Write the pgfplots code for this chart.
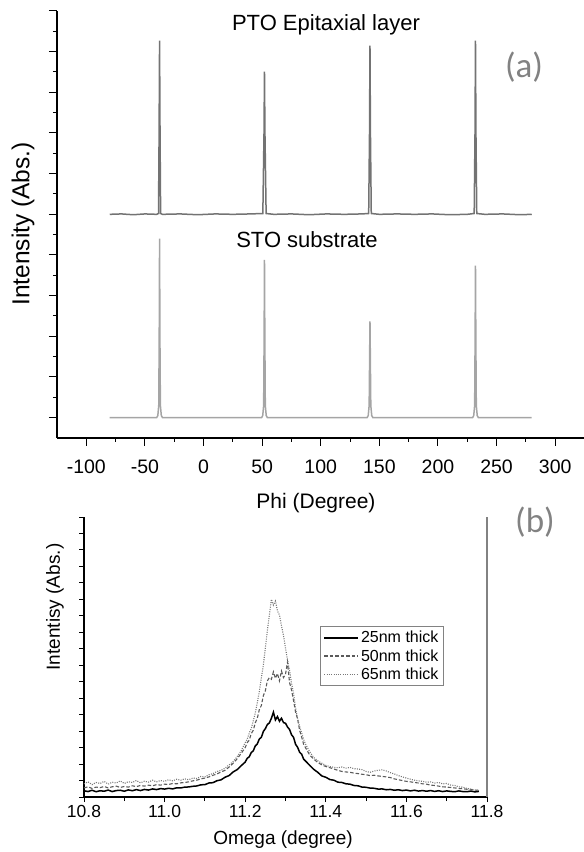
\documentclass[border=0pt]{standalone}
\usepackage{pgfplots}
\pgfplotsset{compat=1.18}
\usepackage{fontspec}
\setmainfont{Liberation Sans}
\newfontfamily\carlito{Carlito}
\definecolor{ptogray}{RGB}{115,115,115}
\definecolor{stogray}{RGB}{165,165,165}
\definecolor{dashgray}{RGB}{90,90,90}
\definecolor{dotgray}{RGB}{120,120,120}
\definecolor{labgray}{RGB}{130,130,130}
\begin{document}
\begin{tikzpicture}
\useasboundingbox (0pt,0pt) rectangle (584pt,852pt);
% ---------------- panel (a)
\begin{axis}[
  at={(57pt,414pt)}, anchor=south west,
  scale only axis, width=527.5pt, height=427pt,
  xmin=-125, xmax=325, ymin=-0.5, ymax=10,
  axis lines=left, axis line style={-, line width=1.1pt},
  xtick={-100,-50,...,300}, minor x tick num=1,
  ytick={0,...,10}, minor y tick num=1, yticklabels={},
  tick align=outside, major tick length=8pt, minor tick length=4pt,
  every tick/.style={black, line width=1pt},
  /pgf/number format/assume math mode=true,
  xticklabel style={font=\fontsize{19.5}{22}\selectfont, yshift=-10pt},
  clip=false,
]
\addplot[ptogray, line width=1.5pt] coordinates {
(-80,5.0) (-70,5.01) (-60,4.99) (-50,5.01) (-40,5.0) (-38.4,5.02) (-37.9,7.0) (-37.5,9.27) (-37.1,7.0) (-36.6,5.02)
(-35,5.0) (-20,5.01) (-5,4.99) (10,5.01) (25,5.0) (40,5.01) (50.6,5.02) (51.6,7.0) (52.0,8.51) (52.4,7.0) (53.4,5.02)
(60,5.0) (75,5.01) (90,4.99) (105,5.01) (120,5.0) (135,5.01) (140.9,5.02) (141.6,7.0) (142.0,9.15) (142.4,7.0) (143.1,5.02)
(150,5.0) (165,5.01) (180,5.0) (195,5.01) (210,4.99) (225,5.0) (230.9,5.02) (231.6,7.0) (232.0,9.27) (232.4,7.0) (233.1,5.02)
(240,5.0) (255,5.01) (270,4.99) (280,5.0)};
\addplot[stogray, line width=1.5pt] coordinates {
(-80,0) (-40,0) (-39,0.05) (-38.2,0.3) (-37.8,2.0) (-37.5,4.40) (-37.2,2.0) (-36.8,0.3) (-36,0.05) (-35,0)
(49.5,0) (50.5,0.05) (51.3,0.3) (51.7,2.0) (52.0,3.88) (52.3,2.0) (52.7,0.3) (53.5,0.05) (54.5,0)
(139.5,0) (140.5,0.05) (141.3,0.3) (141.7,1.5) (142.0,2.37) (142.3,1.5) (142.7,0.3) (143.5,0.05) (144.5,0)
(229.5,0) (230.5,0.05) (231.3,0.3) (231.7,2.0) (232.0,3.74) (232.3,2.0) (232.7,0.3) (233.5,0.05) (234.5,0)
(280,0)};
\end{axis}
% ---------------- panel (b)
\begin{axis}[
  at={(84pt,55pt)}, anchor=south west,
  scale only axis, width=403pt, height=280pt,
  xmin=10.8, xmax=11.8, ymin=0, ymax=17,
  axis lines=left, axis line style={-, line width=1.1pt},
  xtick={10.8,11.0,...,11.8}, minor x tick num=1,
  ytick={0,...,17}, yticklabels={},
  tick align=outside, major tick length=5pt, minor tick length=4pt,
  every tick/.style={black, line width=0.9pt},
  /pgf/number format/assume math mode=true,
  xticklabel style={font=\fontsize{17.5}{20}\selectfont, /pgf/number format/fixed, /pgf/number format/fixed zerofill, /pgf/number format/precision=1},
  legend style={at={(0.586,0.611)}, anchor=north west, draw=labgray, line width=0.8pt,
     font=\fontsize{16}{19}\selectfont, inner sep=3pt, row sep=1pt},
  legend cell align=left,
  legend image code/.code={\draw[#1] (0pt,0pt) -- (34pt,0pt);},
  clip=false,
]
\addplot[black, line width=1.5pt] coordinates {
(10.80,0.38) (10.81,0.33) (10.82,0.41) (10.83,0.32) (10.84,0.38) (10.85,0.35) (10.86,0.42) (10.87,0.33) (10.88,0.39) (10.89,0.41)
(10.90,0.35) (10.91,0.43) (10.92,0.38) (10.93,0.45) (10.94,0.39) (10.95,0.46) (10.96,0.42) (10.97,0.49) (10.98,0.45) (10.99,0.51)
(11.00,0.48) (11.01,0.53) (11.02,0.49) (11.03,0.56) (11.04,0.55) (11.05,0.60) (11.06,0.61) (11.07,0.65) (11.08,0.67) (11.09,0.74)
(11.10,0.75) (11.11,0.85) (11.12,0.87) (11.13,0.99) (11.14,1.04) (11.15,1.20) (11.16,1.30) (11.17,1.52) (11.18,1.66) (11.19,1.90)
(11.200,2.12) (11.205,2.35) (11.210,2.44) (11.215,2.70) (11.220,2.80) (11.225,3.10) (11.230,3.22) (11.235,3.52) (11.240,3.62) (11.245,3.98)
(11.250,4.15) (11.255,4.40) (11.260,4.50) (11.265,4.78) (11.270,5.15) (11.275,4.68) (11.280,4.88) (11.285,4.60) (11.290,4.78) (11.295,4.52)
(11.300,4.48) (11.305,4.25) (11.310,4.10) (11.315,3.78) (11.320,3.62) (11.325,3.20) (11.330,3.02) (11.335,2.72) (11.340,2.60) (11.345,2.30)
(11.350,2.18) (11.36,1.92) (11.37,1.68) (11.38,1.50) (11.39,1.28) (11.40,1.20) (11.41,1.06) (11.42,1.02) (11.43,0.90) (11.44,0.88)
(11.45,0.80) (11.46,0.78) (11.47,0.70) (11.48,0.68) (11.49,0.60) (11.50,0.59) (11.51,0.54) (11.52,0.53) (11.53,0.48) (11.54,0.49)
(11.55,0.44) (11.56,0.46) (11.57,0.41) (11.58,0.44) (11.59,0.39) (11.60,0.42) (11.61,0.37) (11.62,0.41) (11.63,0.36) (11.64,0.39)
(11.65,0.35) (11.66,0.39) (11.67,0.34) (11.68,0.38) (11.69,0.33) (11.70,0.37) (11.71,0.34) (11.72,0.32) (11.73,0.37) (11.74,0.33)
(11.75,0.32) (11.76,0.36) (11.77,0.31) (11.78,0.34)};
\addlegendentry{25nm thick}
\addplot[dashgray, line width=1.1pt, dash pattern=on 3.5pt off 2pt] coordinates {
(10.80,0.55) (10.81,0.62) (10.82,0.52) (10.83,0.60) (10.84,0.57) (10.85,0.64) (10.86,0.55) (10.87,0.62) (10.88,0.66) (10.89,0.58)
(10.90,0.64) (10.91,0.60) (10.92,0.68) (10.93,0.63) (10.94,0.70) (10.95,0.66) (10.96,0.72) (10.97,0.68) (10.98,0.75) (10.99,0.72)
(11.00,0.78) (11.01,0.76) (11.02,0.82) (11.03,0.80) (11.04,0.86) (11.05,0.88) (11.06,0.92) (11.07,0.98) (11.08,1.02) (11.09,1.10)
(11.10,1.15) (11.11,1.22) (11.12,1.32) (11.13,1.40) (11.14,1.52) (11.15,1.62) (11.16,1.82) (11.17,2.05) (11.18,2.32) (11.19,2.65)
(11.200,3.00) (11.205,3.30) (11.210,3.45) (11.215,3.85) (11.220,4.05) (11.225,4.50) (11.230,4.78) (11.235,5.30) (11.240,5.55) (11.245,6.15)
(11.250,6.45) (11.255,7.05) (11.260,7.25) (11.265,7.15) (11.270,7.60) (11.275,7.20) (11.280,7.50) (11.285,7.05) (11.290,7.65) (11.295,7.25)
(11.300,7.45) (11.305,8.20) (11.310,6.95) (11.315,6.50) (11.320,5.85) (11.325,5.15) (11.330,4.75) (11.335,4.05) (11.340,3.65) (11.345,3.20)
(11.350,2.98) (11.36,2.55) (11.37,2.30) (11.38,2.10) (11.39,1.95) (11.40,1.85) (11.41,1.78) (11.42,1.70) (11.43,1.62)
(11.44,1.55) (11.45,1.52) (11.46,1.50) (11.47,1.45) (11.48,1.42) (11.49,1.38) (11.50,1.35) (11.51,1.30) (11.52,1.32) (11.53,1.28)
(11.54,1.25) (11.55,1.22) (11.56,1.18) (11.57,1.10) (11.58,1.05) (11.59,1.00) (11.60,0.95) (11.61,0.92) (11.62,0.88) (11.63,0.85)
(11.64,0.80) (11.65,0.78) (11.66,0.72) (11.67,0.70) (11.68,0.66) (11.69,0.62) (11.70,0.60) (11.71,0.58) (11.72,0.55) (11.73,0.52)
(11.74,0.50) (11.75,0.47) (11.76,0.45) (11.77,0.42) (11.78,0.40)};
\addlegendentry{50nm thick}
\addplot[dotgray, line width=1.1pt, dash pattern=on 1pt off 1.3pt] coordinates {
(10.80,0.80) (10.81,0.92) (10.82,0.75) (10.83,0.88) (10.84,0.82) (10.85,0.95) (10.86,0.78) (10.87,0.90) (10.88,0.85) (10.89,0.98)
(10.90,0.82) (10.91,0.93) (10.92,0.88) (10.93,1.00) (10.94,0.86) (10.95,0.96) (10.96,0.90) (10.97,1.02) (10.98,0.92) (10.99,1.00)
(11.00,0.95) (11.01,1.05) (11.02,0.98) (11.03,1.08) (11.04,1.02) (11.05,1.10) (11.06,1.05) (11.07,1.15) (11.08,1.12) (11.09,1.25)
(11.10,1.22) (11.11,1.35) (11.12,1.42) (11.13,1.55) (11.14,1.62) (11.15,1.75) (11.16,1.95) (11.17,2.15) (11.18,2.45) (11.19,2.80)
(11.200,3.30) (11.205,3.50) (11.210,3.88) (11.215,4.15) (11.220,4.62) (11.225,5.10) (11.230,5.72) (11.235,6.40) (11.240,7.22) (11.245,8.00)
(11.250,9.05) (11.255,10.10) (11.260,11.05) (11.265,12.00) (11.270,11.65) (11.275,11.90) (11.280,11.30) (11.285,11.05) (11.290,10.40) (11.295,9.80)
(11.300,9.05) (11.305,8.30) (11.310,7.70) (11.315,6.90) (11.320,6.30) (11.325,5.40) (11.330,4.75) (11.335,4.30) (11.340,3.90) (11.345,3.50)
(11.350,3.20) (11.36,2.75) (11.37,2.40) (11.38,2.20) (11.39,2.05) (11.40,1.92) (11.41,1.85) (11.42,1.80) (11.43,1.78) (11.44,1.82) (11.45,1.75)
(11.46,1.80) (11.47,1.72) (11.48,1.70) (11.49,1.66) (11.50,1.55) (11.51,1.50) (11.52,1.58) (11.53,1.62) (11.54,1.65) (11.55,1.58)
(11.56,1.48) (11.57,1.40) (11.58,1.30) (11.59,1.22) (11.60,1.15) (11.61,1.08) (11.62,1.02) (11.63,0.98) (11.64,0.95) (11.65,0.90)
(11.66,0.92) (11.67,0.85) (11.68,0.88) (11.69,0.80) (11.70,0.82) (11.71,0.72) (11.72,0.70) (11.73,0.62) (11.74,0.60) (11.75,0.52)
(11.76,0.48) (11.77,0.42) (11.78,0.40)};
\addlegendentry{65nm thick}
\draw[labgray, line width=1.3pt] (rel axis cs:1,0) -- (rel axis cs:1,1);
\end{axis}
% ---------------- texts
\node[font=\fontsize{22}{26}\selectfont] at (326pt,827pt) {PTO Epitaxial layer};
\node[font=\fontsize{22}{26}\selectfont] at (307pt,612pt) {STO substrate};
\node[font=\carlito\fontsize{35}{40}\selectfont, text=labgray] at (524pt,785pt) {(a)};
\node[font=\fontsize{24.5}{28}\selectfont, rotate=90] at (23pt,628pt) {Intensity (Abs.)};
\node[font=\fontsize{21}{25}\selectfont] at (316pt,349pt) {Phi (Degree)};
\node[font=\carlito\fontsize{35}{40}\selectfont, text=labgray] at (535pt,330pt) {(b)};
\node[font=\fontsize{19}{22}\selectfont, rotate=90] at (55pt,245pt) {Intentisy (Abs.)};
\node[font=\fontsize{19}{22}\selectfont] at (283pt,12pt) {Omega (degree)};
\end{tikzpicture}
\end{document}
